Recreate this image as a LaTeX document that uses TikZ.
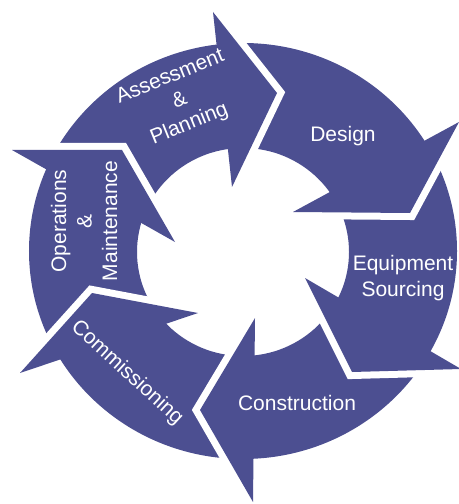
\documentclass[tikz,border=0pt]{standalone}
\usepackage{fontspec}
\setmainfont{Liberation Sans}
\usetikzlibrary{calc}
\definecolor{ringblue}{RGB}{76,79,145}
\begin{document}
\begin{tikzpicture}[x=1bp,y=-1bp,
  steplabel/.style={text=white, font=\fontsize{21bp}{25.5bp}\selectfont, align=center, inner sep=0pt},
  gapline/.style={draw=white, line width=14bp, line join=miter, miter limit=20},
  headfill/.style={fill=ringblue},
  ringfill/.style={fill=ringblue, even odd rule}]
\useasboundingbox[fill=white] (0,0) rectangle (459,504);
% arrow heads: outer barb, tip, inner barb
\coordinate (A-ob) at (213,12);  \coordinate (A-t) at (277,93);  \coordinate (A-ib) at (232,187);
\coordinate (D-ob) at (459,122); \coordinate (D-t) at (410,213); \coordinate (D-ib) at (293,212);
\coordinate (E-ob) at (461,369); \coordinate (E-t) at (352,372); \coordinate (E-ib) at (305,278);
\coordinate (C-ob) at (253,502); \coordinate (C-t) at (200,410); \coordinate (C-ib) at (255,318);
\coordinate (M-ob) at (20,373);  \coordinate (M-t) at (92,293);  \coordinate (M-ib) at (198,313);
\coordinate (O-ob) at (12,150);  \coordinate (O-t) at (122,150); \coordinate (O-ib) at (175,242);
% ring
\path[ringfill] (243,251) ellipse [x radius=214bp, y radius=208bp]
                (243,252) ellipse [x radius=106bp, y radius=104bp];
% white gaps in front of each head
\foreach \k in {A,D,E,C,M,O}{
  \draw[gapline] (\k-ob) -- (\k-t) -- (\k-ib);
}
% heads
\foreach \k in {A,D,E,C,M,O}{
  \fill[headfill] (\k-ob) -- (\k-t) -- (\k-ib) -- cycle;
}
% labels
\node[steplabel, rotate=22] (assess) at (180,101) {Assessment\\\&\\Planning};
\node[steplabel] (design) at (343,136) {Design};
\node[steplabel] (equip) at (403,278) {Equipment\\Sourcing};
\node[steplabel] (constr) at (297,402.5) {Construction};
\node[steplabel, rotate=-42.5] (comm) at (127,373) {Commissioning};
\node[steplabel, rotate=90] (ops) at (84,221) {Operations\\\&\\Maintenance};
\end{tikzpicture}
\end{document}
